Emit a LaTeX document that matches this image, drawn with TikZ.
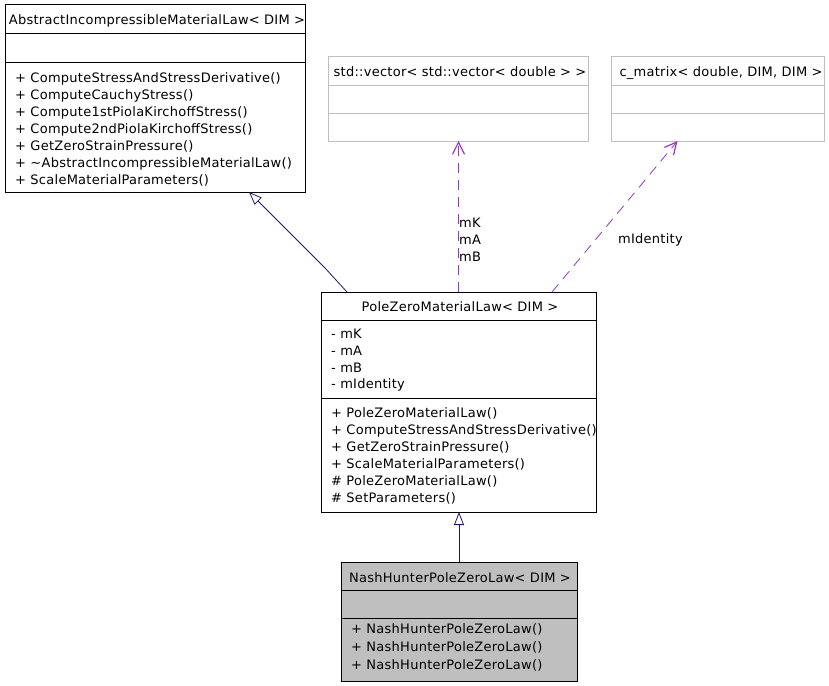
\documentclass[tikz,border=0pt]{standalone}
\usepackage{fontspec}
\setmainfont{DejaVu Sans}[LetterSpace=2]
\usepackage{xcolor}
\usetikzlibrary{arrows.meta}

\definecolor{edgenavy}{HTML}{191970}
\definecolor{usepurple}{HTML}{9A32CD}
\definecolor{extgray}{HTML}{BFBFBF}

\tikzset{
  classbox/.style={draw, line width=1pt, anchor=north west, inner sep=0pt, outer sep=0pt},
  extbox/.style={classbox, draw=extgray},
  member/.style={anchor=base west, inner sep=0pt, font=\fontsize{13}{17}\selectfont},
  ctitle/.style={anchor=base, inner sep=0pt, font=\fontsize{13}{17}\selectfont},
  inherit/.style={edgenavy, line width=0.8pt, -{Triangle[open, length=13pt, width=10pt, fill=white]}},
  uses/.style={usepurple, line width=0.8pt, dash pattern=on 10pt off 7pt, -{Straight Barb[length=12pt, width=12pt, line width=1.2pt]}},
  elabel/.style={anchor=west, inner sep=0pt, align=left, font=\fontsize{13}{17}\selectfont}
}

\begin{document}
\begin{tikzpicture}[x=1pt,y=-1pt]
\useasboundingbox (0,0) rectangle (829,685);

% base class
\node[classbox, minimum width=300pt, minimum height=187pt] (abs) at (5,5) {};
\draw[line width=1pt] (5,34) -- (305,34) (5,62) -- (305,62);
\node[ctitle] (abs-t) at (157,25) {AbstractIncompressibleMaterialLaw< DIM >};
\foreach \m [count=\k] in {ComputeStressAndStressDerivative(), ComputeCauchyStress(),
  Compute1stPiolaKirchoffStress(), Compute2ndPiolaKirchoffStress(),
  GetZeroStrainPressure(), \textasciitilde AbstractIncompressibleMaterialLaw(),
  ScaleMaterialParameters()}
  \node[member] (abs-m\k) at (15,65+17*\k) {+ \m};

% external types
\node[extbox, minimum width=260pt, minimum height=84pt] (vec) at (328,57) {};
\draw[extgray, line width=1pt] (328,85) -- (588,85) (328,113) -- (588,113);
\node[ctitle] (vec-t) at (460,76) {std::vector< std::vector< double > >};

\node[extbox, minimum width=213pt, minimum height=84pt] (cmat) at (611,57) {};
\draw[extgray, line width=1pt] (611,85) -- (824,85) (611,113) -- (824,113);
\node[ctitle] (cmat-t) at (721,76) {c\_matrix< double, DIM, DIM >};

% PoleZeroMaterialLaw
\node[classbox, minimum width=275pt, minimum height=220pt] (pole) at (321,292) {};
\draw[line width=1pt] (321,320) -- (596,320) (321,398) -- (596,398);
\node[ctitle] (pole-t) at (460,311) {PoleZeroMaterialLaw< DIM >};
\foreach \a [count=\k] in {mK, mA, mB, mIdentity}
  \node[member] (pole-a\k) at (331,322+16.7*\k) {- \a};
\foreach \m [count=\k] in {+ PoleZeroMaterialLaw(), + ComputeStressAndStressDerivative(),
  + GetZeroStrainPressure(), + ScaleMaterialParameters(),
  \# PoleZeroMaterialLaw(), \# SetParameters()}
  \node[member] (pole-m\k) at (331,400+17*\k) {\m};

% NashHunterPoleZeroLaw
\node[classbox, fill=extgray, minimum width=236pt, minimum height=119pt] (nash) at (341,562) {};
\draw[line width=1pt] (341,590) -- (577,590) (341,618) -- (577,618);
\node[ctitle] (nash-t) at (460,582) {NashHunterPoleZeroLaw< DIM >};
\foreach \k in {1,2,3}
  \node[member] (nash-m\k) at (351,616+17.7*\k) {+ NashHunterPoleZeroLaw()};

% edges
\draw[inherit] ([xshift=26pt]pole.north west) -- (325,268) -- ([xshift=244pt]abs.south west);
\draw[inherit] (nash.north) -- (nash.north |- pole.south);
\draw[uses] (pole.north) -- (pole.north |- vec.south);
\draw[uses] ([xshift=-44pt]pole.north east) -- ([xshift=-40pt]cmat.south);
\node[elabel] (lbl-kab) at (459,240) {mK\\mA\\mB};
\node[elabel] (lbl-id) at (618,240) {mIdentity};
\end{tikzpicture}
\end{document}
